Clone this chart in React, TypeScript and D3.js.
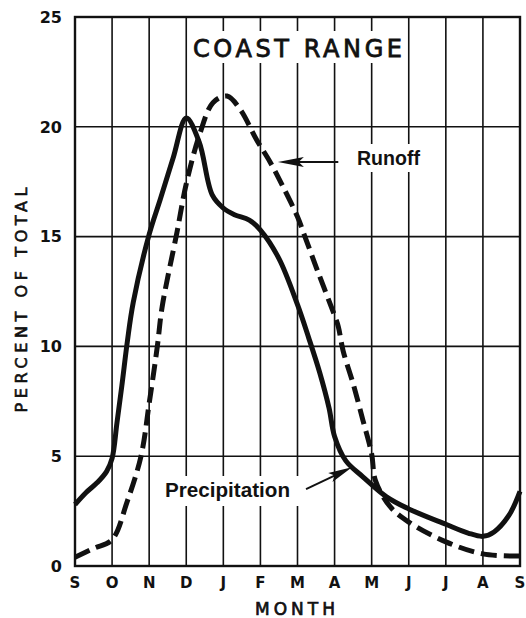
import React from "react";
import * as d3 from "d3";

const monthLabels = ["S", "O", "N", "D", "J", "F", "M", "A", "M", "J", "J", "A", "S"];
const yTickValues = [0, 5, 10, 15, 20, 25];

// Precipitation (solid) – month index from September (0) to September (12)
const precipMonth = [0, 0.3, 0.6, 0.85, 1.0, 1.13, 1.27, 1.41, 1.57, 2.0, 2.3, 2.65, 3.0, 3.35, 3.7, 4.0, 4.3, 4.7, 5.0, 5.5, 6.0, 6.3, 6.6, 6.85, 7.0, 7.3, 7.77, 8.4, 9.0, 10.0, 10.6, 11.0, 11.3, 11.7, 12.0];
const precipPct = [2.8, 3.35, 3.8, 4.3, 4.9, 6.5, 8.3, 10.2, 12.0, 15.1, 16.7, 18.6, 20.4, 19.3, 16.9, 16.3, 16.0, 15.75, 15.3, 14.0, 11.9, 10.4, 8.8, 7.2, 5.9, 4.8, 4.05, 3.15, 2.6, 1.9, 1.5, 1.35, 1.55, 2.3, 3.4];

// Runoff (dashed)
const runoffMonth = [0, 0.5, 1.0, 1.4, 1.78, 2.0, 2.22, 2.35, 2.75, 3.0, 3.37, 3.72, 4.1, 4.45, 4.9, 5.26, 5.6, 6.0, 6.2, 6.55, 7.0, 7.1, 7.23, 7.5, 7.77, 8.0, 8.1, 8.5, 9.0, 10.0, 11.0, 12.0];
const runoffPct = [0.4, 0.8, 1.2, 2.9, 5.0, 7.4, 10.0, 11.8, 15.2, 17.4, 19.7, 21.1, 21.4, 20.8, 19.4, 18.4, 17.3, 15.9, 15.0, 13.4, 11.4, 10.9, 9.8, 8.3, 6.6, 5.1, 3.9, 2.7, 2.0, 1.1, 0.55, 0.45];

const titleText = "COAST RANGE";
const runoffLabel = "Runoff";
const precipLabel = "Precipitation";
const xAxisTitle = "MONTH";
const yAxisTitle = "PERCENT OF TOTAL";

function arrowHead(tx: number, ty: number, fx: number, fy: number, len: number, half: number) {
  const dx = tx - fx, dy = ty - fy;
  const L = Math.hypot(dx, dy);
  const ux = dx / L, uy = dy / L;
  const px = -uy, py = ux;
  const bx = tx - ux * len, by = ty - uy * len;
  const nx = tx - ux * len * 0.8, ny = ty - uy * len * 0.8;
  return `M${tx},${ty}L${bx + px * half},${by + py * half}L${nx},${ny}L${bx - px * half},${by - py * half}Z`;
}

export default function App() {
  const W = 526, H = 618;
  const x = d3.scaleLinear().domain([0, 12]).range([75, 520]);
  const y = d3.scaleLinear().domain([0, 25]).range([566, 17]);
  const line = d3
    .line<[number, number]>()
    .x((d) => x(d[0]))
    .y((d) => y(d[1]))
    .curve(d3.curveCatmullRom.alpha(0.5));

  const precipData: [number, number][] = precipMonth.map((m, i) => [m, precipPct[i]]);
  const runoffData: [number, number][] = runoffMonth.map((m, i) => [m, runoffPct[i]]);
  const monthTicks = d3.range(monthLabels.length);

  const ink = "#111";
  const font = "'DejaVu Sans', sans-serif";
  const font2 = "'Liberation Sans', Arial, sans-serif";

  // annotation positions
  const rTip = [x(5.47), y(18.4)];
  const rTail = [x(7.1), y(18.4)];
  const pTip = [x(7.47), y(4.5)];
  const pTail = [x(6.23), y(3.5)];

  return (
    <svg
      width={W}
      height={H}
      style={{ position: "absolute", left: 0, top: 0, background: "#fff" }}
    >
      <rect x={0} y={0} width={W} height={H} fill="#fff" />
      {/* grid */}
      <g stroke={ink} strokeWidth={1.6}>
        {monthTicks.map((i) => (
          <line key={"v" + i} x1={x(i)} x2={x(i)} y1={y(0)} y2={y(25)} />
        ))}
        {yTickValues.map((v) => (
          <line key={"h" + v} x1={x(0)} x2={x(12)} y1={y(v)} y2={y(v)} />
        ))}
      </g>
      <rect x={x(0)} y={y(25)} width={x(12) - x(0)} height={y(0) - y(25)} fill="none" stroke={ink} strokeWidth={2.4} />
      {/* white label boxes interrupting grid */}
      <rect x={190} y={31} width={215} height={32} fill="#fff" />
      <rect x={350} y={144} width={75} height={28} fill="#fff" />
      <rect x={162} y={476} width={140} height={30} fill="#fff" />

      {/* curves */}
      <path d={line(runoffData) || ""} fill="none" stroke={ink} strokeWidth={5} strokeDasharray="16 7" strokeLinecap="butt" />
      <path d={line(precipData) || ""} fill="none" stroke={ink} strokeWidth={5} strokeLinejoin="round" />

      {/* title */}
      <text x={193} y={57} fontFamily={font} fontSize={24} fontWeight={400} fill={ink} stroke={ink} strokeWidth={0.8} textLength={209} lengthAdjust="spacing">
        {titleText}
      </text>

      {/* annotations */}
      <line x1={rTail[0]} y1={rTail[1]} x2={rTip[0] + 10} y2={rTip[1]} stroke={ink} strokeWidth={2} />
      <path d={arrowHead(rTip[0], rTip[1], rTail[0], rTail[1], 26, 5)} fill={ink} />
      <text x={357} y={165} fontFamily={font2} fontSize={20} fontWeight={700} fill={ink} textLength={63} lengthAdjust="spacingAndGlyphs">
        {runoffLabel}
      </text>

      <line x1={pTail[0]} y1={pTail[1]} x2={pTip[0] - 8} y2={pTip[1] + 4} stroke={ink} strokeWidth={2} />
      <path d={arrowHead(pTip[0], pTip[1], pTail[0], pTail[1], 24, 5)} fill={ink} />
      <text x={165} y={497} fontFamily={font2} fontSize={20} fontWeight={700} fill={ink} textLength={125} lengthAdjust="spacingAndGlyphs">
        {precipLabel}
      </text>

      {/* y tick labels */}
      {yTickValues.map((v) => (
        <text key={"yl" + v} x={62} y={y(v)} dy="0.36em" textAnchor="end" fontFamily={font} fontSize={16} fontWeight={700} fill={ink}>
          {v}
        </text>
      ))}
      {/* x tick labels */}
      {monthTicks.map((i) => (
        <text key={"xl" + i} x={x(i)} y={588} textAnchor="middle" fontFamily={font} fontSize={15} fontWeight={700} fill={ink}>
          {monthLabels[i]}
        </text>
      ))}
      <text x={295} y={615} textAnchor="middle" fontFamily={font} fontSize={17} fontWeight={400} fill={ink} stroke={ink} strokeWidth={0.7} textLength={80} lengthAdjust="spacing">
        {xAxisTitle}
      </text>
      <text
        transform={`translate(27,300) rotate(-90)`}
        textAnchor="middle"
        fontFamily={font}
        fontSize={16}
        fontWeight={400}
        fill={ink}
        stroke={ink}
        strokeWidth={0.6}
        textLength={225}
        lengthAdjust="spacing"
      >
        {yAxisTitle}
      </text>
    </svg>
  );
}
